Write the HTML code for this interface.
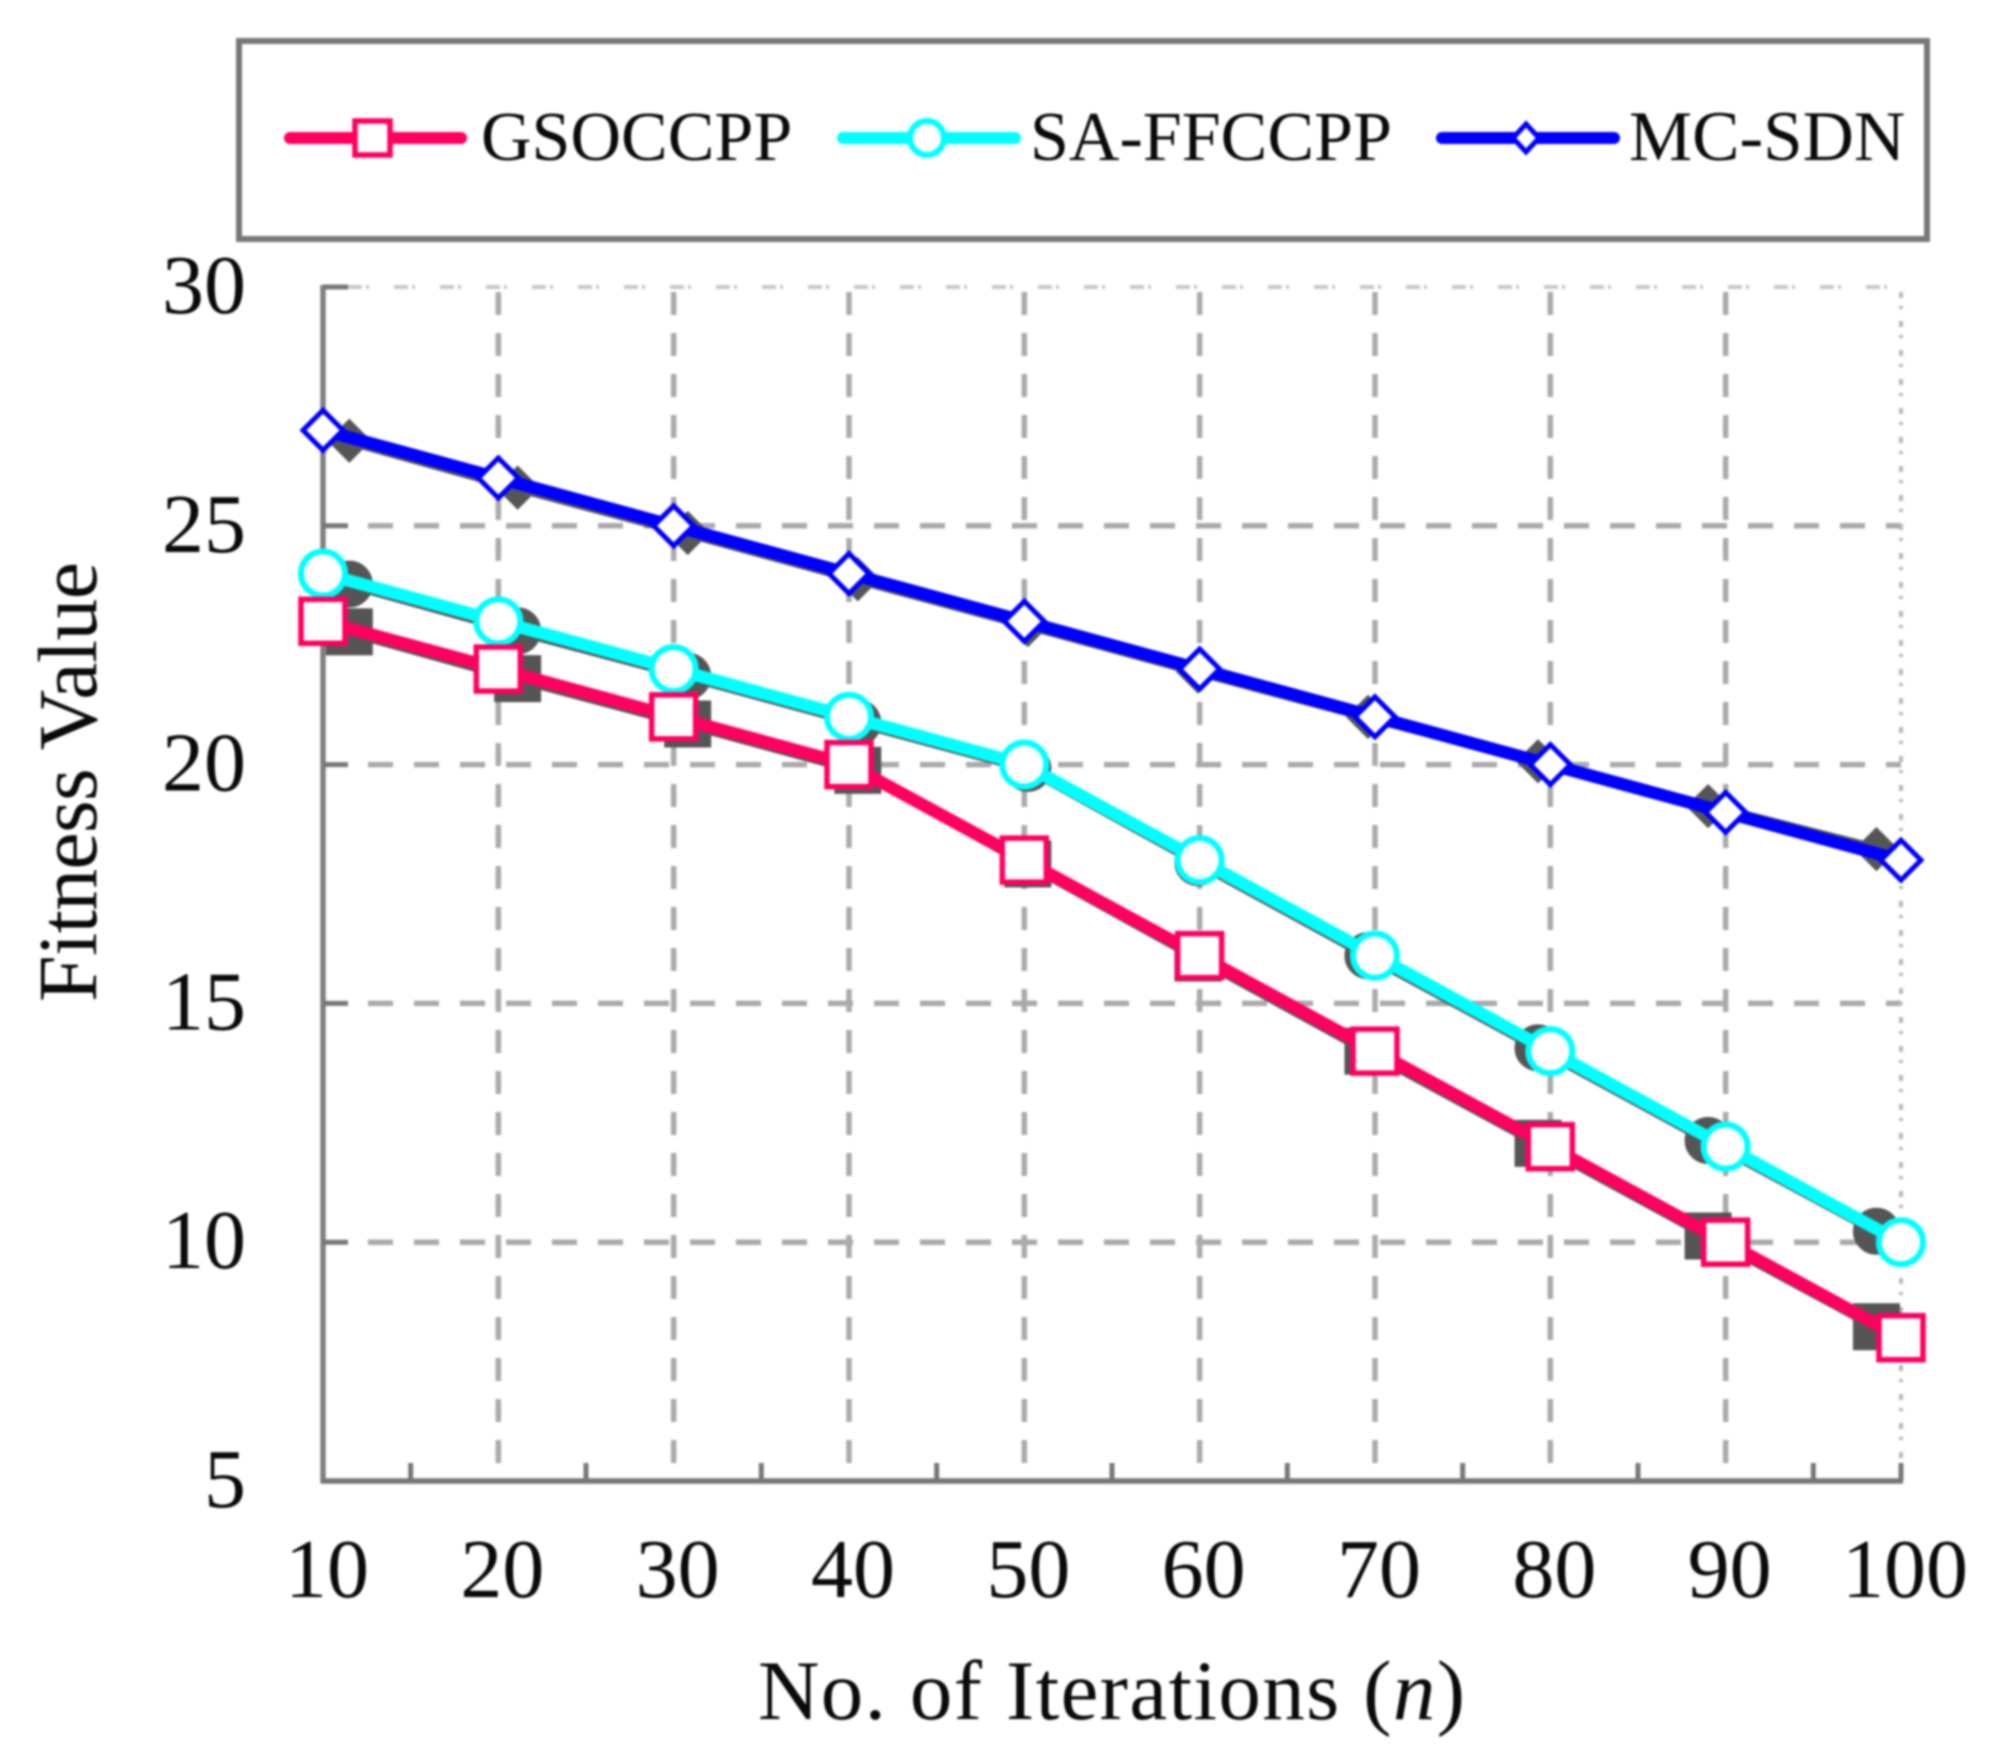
<!DOCTYPE html>
<html lang="en">
<head>
<meta charset="utf-8">
<title>Fitness Value vs Iterations</title>
<style>
html,body{margin:0;padding:0;background:#fff;}
body{width:1998px;height:1763px;overflow:hidden;}
svg{display:block;filter:blur(1.1px);}
text{font-family:"Liberation Serif",serif;fill:#0a0a0a;}
</style>
</head>
<body>
<svg id="chart" xmlns="http://www.w3.org/2000/svg" width="1998" height="1763" viewBox="0 0 1998 1763">
  <rect x="239" y="41" width="1688" height="198" fill="#fff" stroke="#777" stroke-width="6"/>
  <g>
    <line x1="290" y1="138" x2="461" y2="138" stroke="#ff0060" stroke-width="12" stroke-linecap="round"/>
    <rect x="355" y="121" width="35" height="34" fill="#fff" stroke="#ff0060" stroke-width="5.5"/>
    <text x="481" y="160" font-size="70">GSOCCPP</text>
  </g>
  <g>
    <line x1="843" y1="138" x2="1015" y2="138" stroke="#00ffff" stroke-width="12" stroke-linecap="round"/>
    <circle cx="927" cy="138" r="17" fill="#fff" stroke="#00ffff" stroke-width="6"/>
    <text x="1030" y="160" font-size="70">SA-FFCCPP</text>
  </g>
  <g>
    <line x1="1442" y1="138" x2="1614" y2="138" stroke="#0000ff" stroke-width="12" stroke-linecap="round"/>
    <polygon points="1526,124 1539,138 1526,152 1513,138" fill="#fff" stroke="#0000ff" stroke-width="5"/>
    <text x="1629" y="160" font-size="71">MC-SDN</text>
  </g>
  <g id="grid"></g>
  <g id="axes"></g>
  <g id="series"></g>
  <text x="758" y="1719" font-size="85" textLength="707" lengthAdjust="spacing">No. of Iterations (<tspan font-style="italic">n</tspan>)</text>
  <text transform="translate(96,1002) rotate(-90)" font-size="84" textLength="440" lengthAdjust="spacing">Fitness Value</text>
</svg>
<script>
const categories = [10, 20, 30, 40, 50, 60, 70, 80, 90, 100];
const minorTicks = [15, 25, 35, 45, 55, 65, 75, 85, 95, 100];
const yTickLabels = [5, 10, 15, 20, 25, 30];
const gsoValues = [23, 22, 21, 20, 18, 16, 14, 12, 10, 8];
const saValues = [24, 23, 22, 21, 20, 18, 16, 14, 12, 10];
const mcValues = [27, 26, 25, 24, 23, 22, 21, 20, 19, 18];
const shadowCategories = [11.5, 21.1, 30.8, 40.5, 50.2, 59.9, 69.6, 79.3, 89, 98.6];
const gsoShadowValues = [22.78, 21.8, 20.85, 19.88, 17.92, 15.95, 14, 12.07, 10.13, 8.23];
const saShadowValues = [23.78, 22.8, 21.85, 20.88, 19.92, 17.95, 16, 14.07, 12.13, 10.23];
const mcShadowValues = [26.78, 25.8, 24.85, 23.88, 22.92, 21.95, 21, 20.07, 19.13, 18.23];

const NS = 'http://www.w3.org/2000/svg';
const xLeft = 323, xRight = 1901, yTop = 287, yBottom = 1481;
function xScale(v) { return xLeft + (v - 10) / 90 * (xRight - xLeft); }
function yScale(v) { return yBottom - (v - 5) / 25 * (yBottom - yTop); }
function make(tag, attrs, parent) {
  const el = document.createElementNS(NS, tag);
  for (const k in attrs) el.setAttribute(k, attrs[k]);
  parent.appendChild(el);
  return el;
}
const grid = document.getElementById('grid');
const axes = document.getElementById('axes');
const seriesG = document.getElementById('series');

yTickLabels.forEach(function (t) {
  if (t === 5) return;
  const y = yScale(t);
  const top = t === 30;
  const g = make('line', {x1: xLeft + 25, y1: y, x2: xRight, y2: y, stroke: top ? '#c8c8c8' : '#aaaaaa', 'stroke-width': top ? 4 : 5.5, 'stroke-dasharray': top ? '14 4 3 25' : '25 21', 'stroke-dashoffset': top ? 0 : -20}, grid);
  
  
});
categories.forEach(function (c) {
  if (c === 10) return;
  const x = xScale(c);
  const last = c === 100;
  const g = make('line', {x1: x, y1: yTop + 5, x2: x, y2: yBottom, stroke: last ? '#b8b8b8' : '#aaaaaa', 'stroke-width': last ? 4 : 5.5, 'stroke-dasharray': last ? '6 8 3 12' : '23 18'}, grid);
  
  
});

const yAxis = make('line', {x1: xLeft, y1: yTop - 2, x2: xLeft, y2: yBottom + 2, stroke: '#808080', 'stroke-width': 5.5}, axes);


const xAxis = make('line', {x1: xLeft - 2, y1: yBottom, x2: xRight + 2, y2: yBottom, stroke: '#777', 'stroke-width': 5.5}, axes);



minorTicks.forEach(function (m) {
  const t = make('line', {x1: xScale(m), y1: yBottom, x2: xScale(m), y2: yBottom - 18, stroke: '#777', 'stroke-width': 5}, axes);
  
  
});
yTickLabels.forEach(function (t) {
  const y = yScale(t);
  if (t !== 5) {
    const tk = make('line', {x1: xLeft, y1: y, x2: xLeft + 25, y2: y, stroke: '#777', 'stroke-width': 5}, axes);
    
    
  }
  const lab = make('text', {x: 246, y: y + 26, 'font-size': 84, 'text-anchor': 'end'}, axes);
  lab.textContent = String(t);
  
  
});
categories.forEach(function (c) {
  const lab = make('text', {x: xScale(c) + 4, y: 1597, 'font-size': 84, 'text-anchor': 'middle'}, axes);
  lab.textContent = String(c);
  
  
});

function polyPoints(xs, ys) {
  return xs.map(function (c, i) { return xScale(c) + ',' + yScale(ys[i]); }).join(' ');
}
function marker(shape, cx, cy, size, fill, stroke, sw, parent) {
  if (shape === 'square') return make('rect', {x: cx - size / 2, y: cy - size / 2, width: size, height: size, fill: fill, stroke: stroke, 'stroke-width': sw}, parent);
  if (shape === 'circle') return make('circle', {cx: cx, cy: cy, r: size / 2, fill: fill, stroke: stroke, 'stroke-width': sw}, parent);
  const r = size / 2;
  return make('polygon', {points: cx + ',' + (cy - r) + ' ' + (cx + r) + ',' + cy + ' ' + cx + ',' + (cy + r) + ' ' + (cx - r) + ',' + cy, fill: fill, stroke: stroke, 'stroke-width': sw}, parent);
}
function drawShadow(name, shape, size, values) {
  const sh = make('polyline', {points: polyPoints(shadowCategories, values), fill: 'none', stroke: '#555', 'stroke-width': 10}, seriesG);
  
  
  shadowCategories.forEach(function (c, i) {
    const m = marker(shape, xScale(c), yScale(values[i]), size, '#555', '#555', 3, seriesG);
    
    
  });
}
function drawSeries(name, shape, size, color, sw, values) {
  const ln = make('polyline', {points: polyPoints(categories, values), fill: 'none', stroke: color, 'stroke-width': 12.5, 'stroke-linejoin': 'round'}, seriesG);
  
  
  categories.forEach(function (c, i) {
    const m = marker(shape, xScale(c), yScale(values[i]), size, '#fff', color, sw, seriesG);
    
    
  });
}
drawShadow('mc-sdn', 'diamond', 40, mcShadowValues);
drawShadow('sa-ffccpp', 'circle', 44, saShadowValues);
drawShadow('gsoccpp', 'square', 44, gsoShadowValues);
drawSeries('mc-sdn', 'diamond', 40, '#0000ff', 5, mcValues);
drawSeries('sa-ffccpp', 'circle', 44, '#00ffff', 6, saValues);
drawSeries('gsoccpp', 'square', 44, '#ff0060', 5.5, gsoValues);
</script>
</body>
</html>
